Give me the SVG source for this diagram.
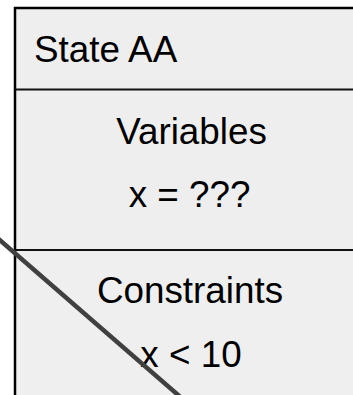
<svg xmlns="http://www.w3.org/2000/svg" width="353" height="395" viewBox="0 0 353 395">
  <style>
    .sec { fill: #eeeeee; stroke: none; }
    .border { fill: none; stroke: #000000; stroke-width: 2.5; }
    .div { stroke: #111111; stroke-width: 2; }
    .t { font-family: "Liberation Sans", Arial, sans-serif; font-size: 36.8px; fill: #000000; }
    .c { text-anchor: middle; }
    .edge { stroke: #404040; stroke-width: 4.5; fill: none; }
  </style>
  <rect width="353" height="395" fill="#ffffff"/>
  <g id="state-aa">
    <rect class="sec" x="15" y="8" width="360" height="81"/>
    <rect class="sec" x="15" y="89" width="360" height="161"/>
    <rect class="sec" x="15" y="250" width="360" height="160" style="fill:#efefef"/>
    <rect class="border" x="15" y="8" width="360" height="400"/>
    <line class="div" x1="15" y1="89.5" x2="375" y2="89.5"/>
    <line class="div" x1="15" y1="250" x2="375" y2="250"/>
    <text class="t" x="34" y="61.5">State AA</text>
    <text class="t c" x="191.5" y="143.5">Variables</text>
    <text class="t c" x="189.5" y="207">x = ???</text>
    <text class="t c" x="190" y="303">Constraints</text>
    <text class="t c" x="191" y="366.5">x &lt; 10</text>
  </g>
  <g id="connectors">
    <line class="edge" x1="-5" y1="236" x2="185" y2="401"/>
  </g>
</svg>
